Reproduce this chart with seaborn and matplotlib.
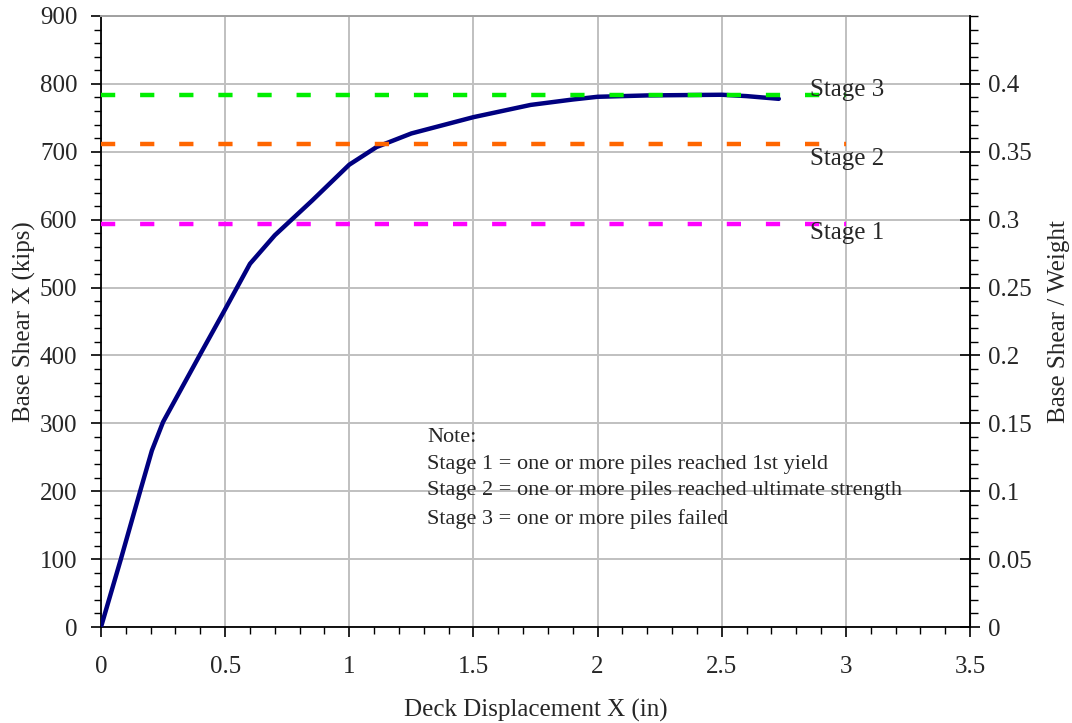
import numpy as np
import pandas as pd
import matplotlib
matplotlib.use("Agg")
import matplotlib.pyplot as plt
import seaborn as sns
from matplotlib.ticker import MultipleLocator

# ------------------------
# DATA
# ------------------------
disp = [0, 0.08, 0.16, 0.205, 0.25, 0.4, 0.5, 0.6, 0.7,
        0.85, 1.0, 1.11, 1.25, 1.5, 1.73, 1.9, 2.0, 2.2, 2.5, 2.6, 2.73]
shear = [0, 100, 203, 260, 302, 402, 468, 535, 577,
         628, 681, 707, 727, 751, 769, 777, 781, 783, 784, 782, 778]

stage_names = ["Stage 1", "Stage 2", "Stage 3"]
stage_shear = [593, 711, 784]
stage_label_y = [580, 690, 791]
stage_colors = ["#ff00ff", "#ff6600", "#00ee00"]
stage_x = [0, 3.0]

weight = 2000.0  # kips, so right axis = shear / weight

note = ("Note:\n"
        "Stage 1 = one or more piles reached 1st yield\n"
        "Stage 2 = one or more piles reached ultimate strength\n"
        "Stage 3 = one or more piles failed")

# ------------------------
# STYLE
# ------------------------
sns.set_style("white")
plt.rcParams["font.family"] = ["Liberation Serif", "DejaVu Serif"]
plt.rcParams["font.size"] = 18

curve = pd.DataFrame({"disp": disp, "shear": shear})

fig = plt.figure(figsize=(10.72, 7.23), dpi=100)
ax = fig.add_axes([101 / 1072, 1 - 627 / 723, 869 / 1072, 611 / 723])

ax.grid(True, color="#c0c0c0", linewidth=1.4)
ax.set_axisbelow(True)

sns.lineplot(data=curve, x="disp", y="shear", ax=ax, color="#000080",
             linewidth=3.2, zorder=3)

# stage lines sit on top of the curve
for name, val, col in zip(stage_names, stage_shear, stage_colors):
    ax.plot(stage_x, [val, val], color=col, linewidth=3.2,
            dashes=(3.2, 5.6), zorder=4)

for name, ly in zip(stage_names, stage_label_y):
    ax.text(2.855, ly, name, fontsize=18, va="center", ha="left", zorder=5)

ax.text(1.315, 293, note, fontsize=16, va="top", ha="left",
        linespacing=1.55, zorder=5)

ax.set_xlim(0, 3.5)
ax.set_ylim(0, 900)
ax.xaxis.set_minor_locator(MultipleLocator(0.1))
ax.yaxis.set_major_locator(MultipleLocator(100))
ax.yaxis.set_minor_locator(MultipleLocator(20))
ax.set_xticks(np.arange(0, 3.51, 0.5))
ax.set_xticklabels(["0", "0.5", "1", "1.5", "2", "2.5", "3", "3.5"])
ax.tick_params(which="major", direction="out", length=7, width=1.2,
               color="black", labelsize=18, bottom=True, left=True)
ax.tick_params(axis="x", which="major", pad=14)
ax.tick_params(axis="y", which="major", pad=10)
ax.tick_params(which="minor", direction="out", length=5, width=1.0,
               color="black", bottom=True, left=True)

ax.set_xlabel("Deck Displacement X (in)", fontsize=18, labelpad=15)
ax.set_ylabel("Base Shear X (kips)", fontsize=18, labelpad=3)

for side in ["left", "bottom"]:
    ax.spines[side].set_color("black")
    ax.spines[side].set_linewidth(1.3)
ax.spines["top"].set_color("#a0a0a0")
ax.spines["top"].set_linewidth(1.4)

# right axis: shear / weight
ax2 = ax.twinx()
ax2.set_ylim(0, 900 / weight)
ax2.yaxis.set_minor_locator(MultipleLocator(0.01))
ax2.set_yticks(np.arange(0, 0.401, 0.05))
ax2.set_yticklabels(["0", "0.05", "0.1", "0.15", "0.2", "0.25", "0.3",
                     "0.35", "0.4"])
ax2.tick_params(which="major", direction="inout", length=14, width=1.2,
                color="black", labelsize=18, right=True, pad=6)
ax2.tick_params(which="minor", direction="out", length=6, width=1.0,
                color="black", right=True)
ax2.set_ylabel("Base Shear / Weight", fontsize=18, labelpad=12)
ax2.spines["right"].set_color("black")
ax2.spines["right"].set_linewidth(1.3)
for side in ["left", "top", "bottom"]:
    ax2.spines[side].set_visible(False)

fig.savefig("out.png", dpi=100)
